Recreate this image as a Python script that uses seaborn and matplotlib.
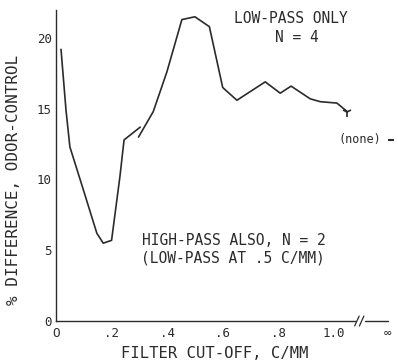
import numpy as np
import pandas as pd
import seaborn as sns
import matplotlib
matplotlib.use('Agg')
import matplotlib.pyplot as plt

# high-pass also (left part)
hp_x = [0.018, 0.036, 0.05, 0.098, 0.147, 0.17, 0.20, 0.23, 0.245, 0.303]
hp_y = [19.2, 14.9, 12.3, 9.3, 6.2, 5.5, 5.7, 10.2, 12.8, 13.7]

# low-pass only
lp_x = [0.297, 0.35, 0.399, 0.453, 0.50, 0.552, 0.60, 0.651, 0.753, 0.807, 0.846, 0.915, 0.951, 1.011, 1.048]
lp_y = [13.0, 14.8, 17.6, 21.3, 21.5, 20.8, 16.5, 15.6, 16.9, 16.1, 16.6, 15.7, 15.5, 15.4, 14.8]

# no filter at all, plotted at the infinity tick
inf_pos = 1.194
none_y = 12.8

xticks = [0, 0.2, 0.4, 0.6, 0.8, 1.0, inf_pos]
xlabels = ['O', '.2', '.4', '.6', '.8', '1.0', '\u221e']
yticks = [0, 5, 10, 15, 20]
ylabels = ['0', '5', '10', '15', '20']

sns.set_style('white')
plt.rcParams['font.family'] = ['DejaVu Sans Mono', 'DejaVu Sans']
ink = '#2b2b2b'

fig = plt.figure(figsize=(3.98, 3.62), dpi=100)
ax = fig.add_axes([56 / 398, 41 / 362, 339 / 398, 311.3 / 362])

hp = pd.DataFrame({'x': hp_x, 'y': hp_y})
lp = pd.DataFrame({'x': lp_x, 'y': lp_y})
sns.lineplot(data=hp, x='x', y='y', sort=False, color=ink, lw=1.2, ax=ax)
sns.lineplot(data=lp, x='x', y='y', sort=False, color=ink, lw=1.2, ax=ax)
ax.plot(lp_x[-1], lp_y[-1], marker='1', ms=7, mew=1.2, color=ink)
ax.plot(inf_pos + 0.01, none_y, marker='_', ms=4, mew=1.5, color=ink, clip_on=False)
ax.text(inf_pos - 0.1, none_y, '(none)', fontsize=8.5, ha='center', va='center', color=ink)

ax.set_xlim(0, 1.22)
ax.set_ylim(0, 22)
sns.despine(ax=ax)
ax.spines['bottom'].set_bounds(0, 1.075)
ax.spines['left'].set_bounds(0, 22)
for s in ['bottom', 'left']:
    ax.spines[s].set_color(ink)
    ax.spines[s].set_linewidth(1.0)

# axis break and short segment out to infinity
ax.plot([1.112, inf_pos], [0, 0], color=ink, lw=1.0, clip_on=False)
for bx in [1.083, 1.100]:
    ax.plot([bx - 0.008, bx + 0.008], [-0.35, 0.35], color=ink, lw=0.9, clip_on=False)

ax.set_xticks(xticks)
ax.set_xticklabels(xlabels)
ax.set_yticks(yticks)
ax.set_yticklabels(ylabels)
ax.tick_params(direction='in', length=5, width=0.9, colors=ink, labelsize=9, pad=3)
ax.tick_params(axis='x', pad=4)
ax.set_xlabel('')
ax.set_ylabel('')

ax.text(0.845, 21.4, 'LOW-PASS ONLY', fontsize=10.5, ha='center', va='center', color=ink)
ax.text(0.866, 20.0, 'N = 4', fontsize=10.5, ha='center', va='center', color=ink)
ax.text(0.64, 5.7, 'HIGH-PASS ALSO, N = 2', fontsize=10.5, ha='center', va='center', color=ink)
ax.text(0.635, 4.45, '(LOW-PASS AT .5 C/MM)', fontsize=10.5, ha='center', va='center', color=ink)

fig.text(215 / 398, 8 / 362, 'FILTER CUT-OFF, C/MM', fontsize=11.2, ha='center', va='center', color=ink)
fig.text(14 / 398, 182 / 362, '% DIFFERENCE, ODOR-CONTROL', fontsize=11.5, rotation=90,
         ha='center', va='center', color=ink)

fig.savefig('out.png', dpi=100, facecolor='white')
